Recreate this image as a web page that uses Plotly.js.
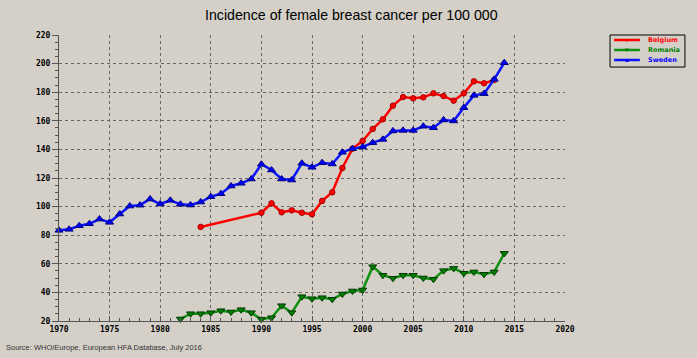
<!DOCTYPE html>
<html>
<head>
<meta charset="utf-8">
<script src="https://cdn.plot.ly/plotly-3.0.1.min.js"></script>
<style>html,body{margin:0;padding:0;background:#D4D0C8;}</style>
</head>
<body>
<div id="chart" style="width:697px;height:358px;"></div>
<script>
const belgiumYears = [1984,1990,1991,1992,1993,1994,1995,1996,1997,1998,1999,2000,2001,2002,2003,2004,2005,2006,2007,2008,2009,2010,2011,2012,2013];
const belgiumValues = [85.8,95.7,102.3,96.0,97.4,95.7,94.6,104.0,110.0,127.0,140.5,145.9,154.3,161.0,170.6,176.6,175.7,176.4,179.2,177.3,174.1,179.2,187.6,186.2,188.5];

const romaniaYears = [1982,1983,1984,1985,1986,1987,1988,1989,1990,1991,1992,1993,1994,1995,1996,1997,1998,1999,2000,2001,2002,2003,2004,2005,2006,2007,2008,2009,2010,2011,2012,2013,2014];
const romaniaValues = [21.4,25.1,25.1,25.8,27.2,26.3,27.9,25.8,21.2,22.3,30.7,25.8,37.0,35.6,36.3,35.2,38.9,41.0,41.7,58.0,52.0,49.9,52.0,52.0,50.1,49.2,55.2,56.8,53.4,54.3,52.7,54.3,67.3];

const swedenYears = [1970,1971,1972,1973,1974,1975,1976,1977,1978,1979,1980,1981,1982,1983,1984,1985,1986,1987,1988,1989,1990,1991,1992,1993,1994,1995,1996,1997,1998,1999,2000,2001,2002,2003,2004,2005,2006,2007,2008,2009,2010,2011,2012,2013,2014];
const swedenValues = [83.4,84.1,86.6,88.0,91.3,89.0,94.8,100.4,101.0,105.3,101.8,104.4,101.6,101.1,103.2,106.9,109.0,114.4,116.3,119.3,129.6,125.6,119.3,118.6,130.3,127.5,130.7,129.8,138.0,140.5,141.7,144.7,147.0,152.9,153.3,153.3,156.2,155.2,160.6,159.9,169.2,177.8,179.0,189.0,200.6];

const seriesNames = ['Belgium','Romania','Sweden'];
const seriesColors = ['#FF0000','#008000','#0000FF'];
const lineColors = ['#FF0000','#109010','#0A14FF'];
const markerSymbols = ['circle','triangle-down','triangle-up'];
const markerSizes = [5.5,7,7];
const legendGlyphs = ['●','▼','▲'];

const xs = [belgiumYears, romaniaYears, swedenYears];
const ys = [belgiumValues, romaniaValues, swedenValues];
const markerEdge = ['#A00000','#003800','#00007A'];

const traces = seriesNames.map((n,i)=>({
  x: xs[i], y: ys[i], name: n, type:'scatter', mode:'lines+markers',
  line:{color: lineColors[i], width:2.5},
  marker:{symbol: markerSymbols[i], size: markerSizes[i], color: seriesColors[i], line:{color: markerEdge[i], width:1}},
  showlegend:false, cliponaxis:false
}));

// custom legend
const shapes = [{type:'rect', xref:'paper', yref:'paper', x0:1.089, x1:1.237, y0:0.888, y1:1.0, line:{color:'#000', width:1}}];
const annotations = [
  {text:'Incidence of female breast cancer per 100 000', xref:'paper', yref:'paper', x:0.5, y:1.0, yshift:20, xshift:39, xanchor:'center', yanchor:'middle', showarrow:false, font:{family:'Liberation Sans, Arial, sans-serif', size:14.2, color:'#000'}},
  {text:'Source: WHO/Europe, European HFA Database, July 2016', xref:'paper', yref:'paper', x:0, y:0, xshift:-55, yshift:-26, xanchor:'left', yanchor:'middle', showarrow:false, font:{family:'Liberation Sans, Arial, sans-serif', size:7.5, color:'#333'}}
];
const rowY = [0.9825, 0.9476, 0.9126];
seriesNames.forEach((n,i)=>{
  shapes.push({type:'line', xref:'paper', yref:'paper', x0:1.097, x1:1.148, y0:rowY[i], y1:rowY[i], line:{color: lineColors[i], width:2.5}});
  annotations.push({text: legendGlyphs[i], xref:'paper', yref:'paper', x:1.1225, y:rowY[i], xanchor:'center', yanchor:'middle', showarrow:false, borderpad:0, font:{size:6, color: seriesColors[i]}});
  annotations.push({text: '<b>'+n+'</b>', xref:'paper', yref:'paper', x:1.163, y:rowY[i], xanchor:'left', yanchor:'middle', showarrow:false, borderpad:0, font:{family:'DejaVu Sans, sans-serif', size:6.5, color: seriesColors[i]}});
});

const tickFont = {family:'DejaVu Sans Mono, monospace', size:8, color:'#000', weight:'bold'};

const layout = {
  width:697, height:358,
  paper_bgcolor:'#D4D0C8', plot_bgcolor:'#D4D0C8',
  margin:{l:59, r:132, t:35, b:37},
  showlegend:false,
  xaxis:{range:[1970,2020], dtick:5, tick0:1970, ticks:'inside', ticklen:5, tickcolor:'#555', showline:true, linecolor:'#555', linewidth:1,
    showgrid:true, gridcolor:'#666', griddash:'dot', gridwidth:1, zeroline:false, tickfont:tickFont,
    minor:{dtick:1, ticks:'inside', ticklen:3, tickcolor:'#555', showgrid:false}},
  yaxis:{range:[20,220], dtick:20, tick0:20, ticks:'outside', ticklen:6, tickcolor:'#555', showline:true, linecolor:'#555', linewidth:1,
    showgrid:true, gridcolor:'#666', griddash:'dot', gridwidth:1, zeroline:false, tickfont:tickFont,
    minor:{dtick:5, ticks:'outside', ticklen:3, tickcolor:'#555', showgrid:false}},
  shapes: shapes,
  annotations: annotations
};

Plotly.newPlot('chart', traces, layout, {displayModeBar:false, staticPlot:true});
</script>
</body>
</html>
